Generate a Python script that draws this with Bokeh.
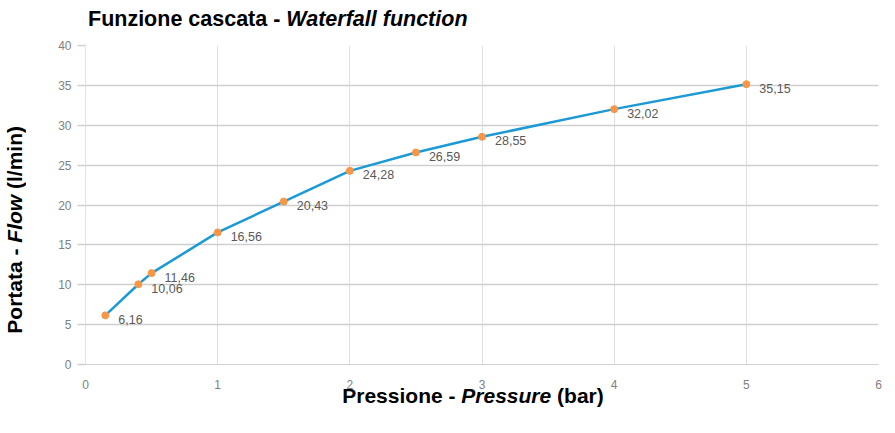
from bokeh.plotting import figure
from bokeh.models import ColumnDataSource, FixedTicker, Range1d, Div
from bokeh.layouts import column, row
from bokeh.core.properties import value
from bokeh.embed import file_html
from bokeh.resources import INLINE

# ---- data ----
pressure = [0.15, 0.4, 0.5, 1.0, 1.5, 2.0, 2.5, 3.0, 4.0, 5.0]
flow = [6.16, 10.06, 11.46, 16.56, 20.43, 24.28, 26.59, 28.55, 32.02, 35.15]
x_ticks = [0, 1, 2, 3, 4, 5, 6]
y_ticks = [0, 5, 10, 15, 20, 25, 30, 35, 40]
title_html = "<b>Funzione cascata - <i>Waterfall function</i></b>"
xlabel_html = "<b>Pressione - <i>Pressure</i> (bar)</b>"
ylabel_html = "<b>Portata - <i>Flow</i> (l/min)</b>"

FONT = "Liberation Sans"

YL_W = 30            # width of the y-label column
TITLE_H = 32
L, R, T, B = 55, 17, 13, 25
FRAME_H = 321
FIG_W = 895 - YL_W
FIG_H = T + FRAME_H + B
XL_H = 40

p = figure(width=FIG_W, height=FIG_H, output_backend="svg", toolbar_location=None,
           x_range=Range1d(0, 6), y_range=Range1d(0, 40),
           min_border_left=L, min_border_right=R, min_border_top=T, min_border_bottom=B)
p.outline_line_color = None
p.background_fill_color = "white"
p.border_fill_color = "white"

p.xaxis.ticker = FixedTicker(ticks=x_ticks)
p.yaxis.ticker = FixedTicker(ticks=y_ticks)
for ax in (p.xaxis[0], p.yaxis[0]):
    ax.major_label_text_font = FONT
    ax.major_label_text_font_size = "12px"
    ax.major_label_text_color = "#7f7f7f"
    ax.minor_tick_line_color = None
    ax.axis_line_color = "#d0d0d0"
p.xaxis.major_tick_line_color = None
p.xaxis.major_label_standoff = 9
p.yaxis.major_tick_out = 8
p.yaxis.major_tick_in = 0
p.yaxis.major_tick_line_color = "#cfcfcf"
p.yaxis.major_tick_line_width = 1.5
p.yaxis.major_label_standoff = 6
p.yaxis.axis_line_color = "#e3e3e3"

p.ygrid.grid_line_color = "#cfcfcf"
p.ygrid.grid_line_width = 1.5
p.xgrid.grid_line_color = "#e0e0e0"
p.xgrid.grid_line_width = 1

src = ColumnDataSource(dict(x=pressure, y=flow,
                            lab=[("%.2f" % v).replace(".", ",") for v in flow]))
p.line("x", "y", source=src, line_color="#1b9ad6", line_width=2.5)
p.scatter("x", "y", source=src, size=7, fill_color="#f79646", line_color="#f79646")
p.text("x", "y", text="lab", source=src, x_offset=13, y_offset=4,
       text_font=value(FONT), text_font_size="12.5px", text_color="#595959",
       text_baseline="middle", text_align="left")

base = f"font-family:'{FONT}'; color:black; white-space:nowrap;"

title = Div(text=f"<div style=\"{base} font-size:21.5px; line-height:22px; "
                 f"padding-left:88px; padding-top:8px;\">{title_html}</div>",
            width=895, height=TITLE_H, margin=0)

ylab = Div(text=f"<div style=\"{base} font-size:21px; line-height:{YL_W}px; width:{YL_W}px; "
                f"height:{FIG_H}px; display:flex; align-items:center; justify-content:center; "
                f"box-sizing:border-box; padding-top:36px;\">"
                f"<span style=\"writing-mode:vertical-rl; transform:rotate(180deg);\">{ylabel_html}</span></div>",
           width=YL_W, height=FIG_H, margin=0)

xlab = Div(text=f"<div style=\"{base} font-size:21px; line-height:21px; width:776px; "
                f"margin-left:85px; text-align:center; position:relative; top:-6px;\">{xlabel_html}</div>",
           width=895, height=XL_H, margin=0)

layout = column(title, row(ylab, p, spacing=0), xlab, spacing=0)

open("out.html", "w").write(file_html(layout, INLINE))
